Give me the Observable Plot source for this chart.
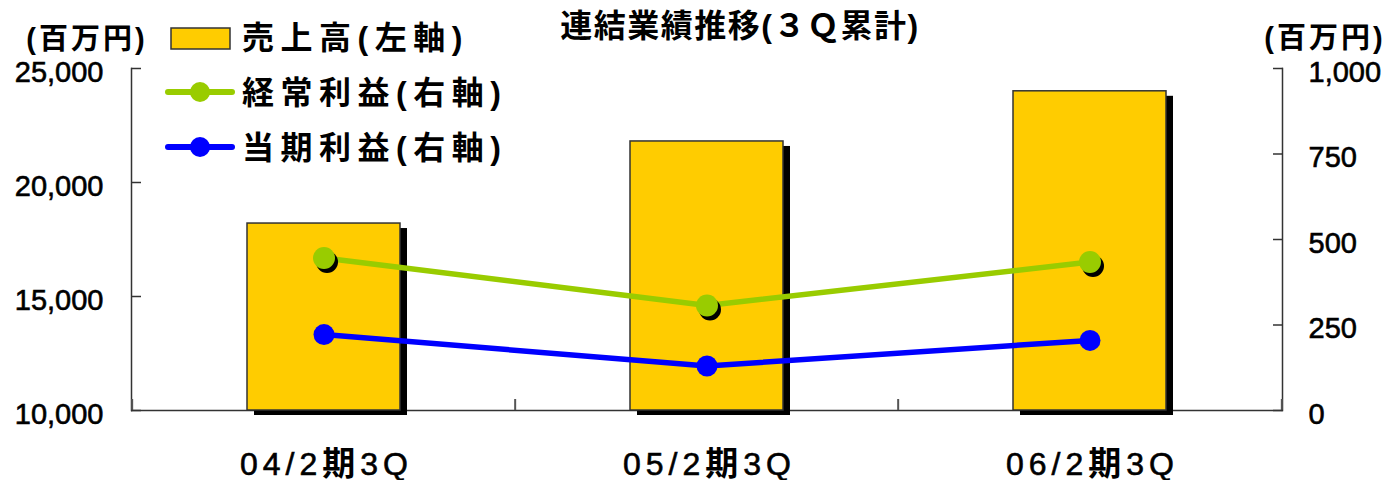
<!DOCTYPE html>
<html>
<head>
<meta charset="utf-8">
<script src="https://cdn.jsdelivr.net/npm/d3@7"></script>
<script src="https://cdn.jsdelivr.net/npm/@observablehq/plot@0.6"></script>
<style>
  body { margin: 0; background: #fff; }
  #wrap { position: relative; width: 1389px; height: 480px; font-family: "Liberation Sans", "Noto Sans CJK JP", sans-serif; }
  #overlay { position: absolute; left: 0; top: 0; pointer-events: none; }
  #overlay text { font-family: "Liberation Sans", "Noto Sans CJK JP", sans-serif; font-weight: bold; fill: #000; dominant-baseline: central; }
</style>
</head>
<body>
<div id="wrap">
  <div id="chart"></div>
  <svg id="overlay" width="1389" height="480">
    <text x="740" y="26" text-anchor="middle" font-size="32" letter-spacing="1.5">連結業績推移(３Ｑ累計)</text>
    <text x="87" y="39" text-anchor="middle" font-size="29" letter-spacing="3">(百万円)</text>
    <text x="1325" y="38" text-anchor="middle" font-size="29" letter-spacing="3">(百万円)</text>
    <rect x="171" y="28" width="59" height="21" fill="#ffcc00" stroke="#333" stroke-width="1.5"></rect>
    <text x="242" y="38" font-size="32" letter-spacing="6.5">売上高(左軸)</text>
    <line x1="168" x2="232" y1="92" y2="92" stroke="#99cc00" stroke-width="6" stroke-linecap="round"></line>
    <circle cx="200" cy="92" r="10" fill="#99cc00"></circle>
    <text x="242" y="93" font-size="32" letter-spacing="6.5">経常利益(右軸)</text>
    <line x1="168" x2="232" y1="147" y2="147" stroke="#0000ff" stroke-width="6" stroke-linecap="round"></line>
    <circle cx="200" cy="147" r="10" fill="#0000ff"></circle>
    <text x="242" y="148" font-size="32" letter-spacing="6.5">当期利益(右軸)</text>
  </svg>
</div>
<script>
// ---- data ----
const categories = ["04/2期3Q", "05/2期3Q", "06/2期3Q"];
const sales = [18200, 21800, 24000];          // 売上高 (left axis, 百万円)
const ordinaryProfit = [446, 307, 434];        // 経常利益 (right axis, 百万円)
const netProfit = [222, 130, 205];             // 当期利益 (right axis, 百万円)
const leftTicks = [10000, 15000, 20000, 25000];
const rightTicks = [0, 250, 500, 750, 1000];

// right axis 0–1000 mapped onto the left domain 10,000–25,000
const toLeft = v => 10000 + v * 15;
const fromLeft = v => (v - 10000) / 15;

const rows = categories.map((c, i) => ({
  cat: c,
  sales: sales[i],
  op: toLeft(ordinaryProfit[i]),
  np: toLeft(netProfit[i])
}));

const W = 1389, H = 480, ml = 131, mr = 107, mt = 68, mb = 70;
const step = (W - ml - mr) / categories.length;
const innerH = H - mt - mb;
const axisColor = "#333";

const chart = Plot.plot({
  width: W, height: H,
  marginLeft: ml, marginRight: mr, marginTop: mt, marginBottom: mb,
  style: { fontFamily: '"Liberation Sans", "Noto Sans CJK JP", sans-serif', color: "#000", background: "#fff", overflow: "visible" },
  x: { domain: categories, paddingInner: 0.6, paddingOuter: 0.3, label: null },
  y: { domain: [10000, 25000], label: null },
  marks: [
    // axis lines
    Plot.ruleY([10000], { stroke: axisColor, strokeWidth: 1.5 }),
    Plot.frame({ anchor: "left", stroke: axisColor, strokeWidth: 1.5 }),
    Plot.frame({ anchor: "right", stroke: axisColor, strokeWidth: 1.5 }),
    // category separator ticks
    Plot.ruleX(categories, { x: d => d, dx: -step / 2, insetTop: innerH - 11, stroke: "#555", strokeWidth: 2 }),
    Plot.ruleX([categories[categories.length - 1]], { x: d => d, dx: step / 2, insetTop: innerH - 11, stroke: "#555", strokeWidth: 2 }),
    // y axes
    Plot.axisY(leftTicks, { anchor: "left", tickSize: 0, tickPadding: 28, tickFormat: d3.format(","), fontSize: 29, dy: 4, label: null }),
    Plot.axisY(leftTicks, { anchor: "left", tickSize: 10, dx: 10, tickFormat: () => "", stroke: axisColor, strokeWidth: 1.5, label: null }),
    Plot.axisY(rightTicks.map(toLeft), { anchor: "right", tickSize: 0, tickPadding: 26, tickFormat: v => d3.format(",")(Math.round(fromLeft(v))), fontSize: 29, dy: 4, label: null }),
    Plot.axisY(rightTicks.map(toLeft), { anchor: "right", tickSize: 10, dx: -10, tickFormat: () => "", stroke: axisColor, strokeWidth: 1.5, label: null }),
    // bars with shadow
    Plot.barY(rows, { x: "cat", y1: 10000, y2: "sales", fill: "#000", dx: 7, dy: 5 }),
    Plot.barY(rows, { x: "cat", y1: 10000, y2: "sales", fill: "#ffcc00", stroke: axisColor, strokeWidth: 1.5 }),
    // 経常利益
    Plot.line(rows, { x: "cat", y: "op", stroke: "#99cc00", strokeWidth: 5.5 }),
    Plot.dot(rows, { x: "cat", y: "op", r: 11, fill: "#000", dx: 3, dy: 4 }),
    Plot.dot(rows, { x: "cat", y: "op", r: 11, fill: "#99cc00" }),
    // 当期利益
    Plot.line(rows, { x: "cat", y: "np", stroke: "#0000ff", strokeWidth: 5.5 }),
    Plot.dot(rows, { x: "cat", y: "np", r: 10.5, fill: "#0000ff" }),
    // x axis labels
    Plot.axisX({ tickSize: 0, tickPadding: 42, fontSize: 32, dx: 2.5, label: null })
  ]
});

document.getElementById("chart").appendChild(chart);

// slightly heavier numerals on the value axes
d3.select(chart).selectAll('g[aria-label="y-axis tick label"] text')
  .attr("stroke", "#000").attr("stroke-width", 0.6);

// x tick labels: Latin medium weight, kanji bold
d3.select(chart).selectAll('g[aria-label="x-axis tick label"] text').each(function () {
  const t = d3.select(this);
  const s = t.text();
  t.text(null).attr("letter-spacing", 5);
  const parts = s.match(/[\u3000-\u9fff\uff00-\uffef]+|[^\u3000-\u9fff\uff00-\uffef]+/g) || [];
  parts.forEach(p => {
    const cjk = /[\u3000-\u9fff\uff00-\uffef]/.test(p);
    const sp = t.append("tspan")
      .attr("font-weight", cjk ? "bold" : "normal")
      .attr("font-size", cjk ? 33 : 32)
      .text(p);
    if (!cjk) sp.attr("stroke", "#000").attr("stroke-width", 0.6);
  });
});
</script>
</body>
</html>
